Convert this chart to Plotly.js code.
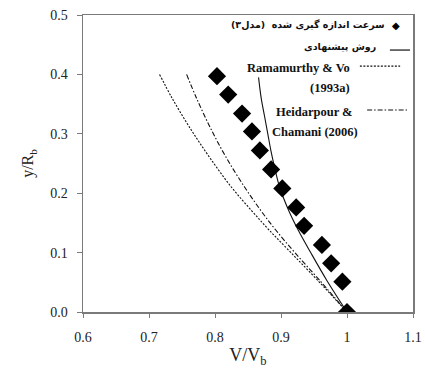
<!DOCTYPE html>
<html>
<head>
<meta charset="utf-8">
<script src="https://cdn.plot.ly/plotly-3.0.1.min.js"></script>
<style>html,body{margin:0;padding:0;background:#fff;}#chart{width:425px;height:374px;}</style>
</head>
<body>
<div id="chart"></div>
<script>
// Measured velocity (diamonds)
const measX = [0.803, 0.820, 0.841, 0.856, 0.868, 0.885, 0.902, 0.923, 0.935, 0.962, 0.976, 0.993, 1.0];
const measY = [0.397, 0.366, 0.334, 0.304, 0.272, 0.240, 0.208, 0.176, 0.145, 0.113, 0.082, 0.051, 0.0];
// Proposed method (solid)
const propX = [0.866, 0.870, 0.875, 0.880, 0.885, 0.891, 0.898, 0.912, 0.926, 0.945, 0.969, 1.0];
const propY = [0.395, 0.360, 0.330, 0.300, 0.270, 0.240, 0.210, 0.170, 0.138, 0.100, 0.054, 0.0];
// Ramamurthy & Vo (1993a) (dashed)
const ramX = [0.716, 0.735, 0.762, 0.792, 0.825, 0.856, 0.882, 0.915, 0.955, 1.0];
const ramY = [0.400, 0.360, 0.310, 0.260, 0.210, 0.170, 0.138, 0.100, 0.054, 0.0];
// Heidarpour & Chamani (2006) (dash-dot)
const heiX = [0.757, 0.772, 0.793, 0.817, 0.845, 0.870, 0.892, 0.921, 0.958, 1.0];
const heiY = [0.400, 0.360, 0.310, 0.260, 0.210, 0.170, 0.138, 0.100, 0.054, 0.0];

const xTicks = [0.6, 0.7, 0.8, 0.9, 1.0, 1.1];
const xTickText = ['0.6', '0.7', '0.8', '0.9', '1', '1.1'];
const yTicks = [0.0, 0.1, 0.2, 0.3, 0.4, 0.5];
const yTickText = ['0.0', '0.1', '0.2', '0.3', '0.4', '0.5'];

const legMeas = 'سرعت اندازه گیری شده  (مدل۳)';
const legProp = 'روش پیشنهادی';

const serif = 'Liberation Serif, DejaVu Serif, serif';
const legFont = {family: serif, size: 12.5, color: '#111'};
const farsiFont = {family: 'DejaVu Sans', size: 9.5, color: '#111'};

const traces = [
  {x: ramX, y: ramY, mode: 'lines', line: {color: '#111', width: 1.1, dash: '2px,1.5px', shape: 'spline', smoothing: 1}, hoverinfo: 'skip'},
  {x: heiX, y: heiY, mode: 'lines', line: {color: '#111', width: 1.1, dash: '5px,2px,1.5px,2px', shape: 'spline', smoothing: 1}, hoverinfo: 'skip'},
  {x: propX, y: propY, mode: 'lines', line: {color: '#111', width: 1.1, shape: 'spline'}, hoverinfo: 'skip'},
  {x: measX, y: measY, mode: 'markers', marker: {symbol: 'diamond', size: 14, color: '#000'}, hoverinfo: 'skip'}
];

function ann(text, x, y, font, anchor) {
  return {text: '<b>' + text + '</b>', x: x, y: y, xref: 'paper', yref: 'paper', xanchor: anchor || 'right', yanchor: 'middle', showarrow: false, font: font};
}

const layout = {
  width: 425, height: 374,
  margin: {l: 83, r: 12, t: 15, b: 62},
  paper_bgcolor: '#fff', plot_bgcolor: '#fff',
  showlegend: false,
  font: {family: serif},
  xaxis: {
    range: [0.6, 1.1], tickvals: xTicks, ticktext: xTickText,
    showgrid: false, zeroline: false, showline: true, mirror: true,
    linecolor: '#7a7a7a', linewidth: 1.5, ticks: 'outside', ticklen: 4, tickcolor: '#7a7a7a',
    ticklabelstandoff: 8,
    tickfont: {family: serif, size: 14, color: '#222'},
    title: {text: 'V/V<sub>b</sub>', font: {family: serif, size: 18, color: '#222'}, standoff: 4}
  },
  yaxis: {
    range: [0, 0.5], tickvals: yTicks, ticktext: yTickText,
    showgrid: false, zeroline: false, showline: true, mirror: true,
    linecolor: '#7a7a7a', linewidth: 1.5, ticks: 'outside', ticklen: 5, tickcolor: '#7a7a7a',
    ticklabelstandoff: 6,
    tickfont: {family: serif, size: 14, color: '#222'},
    title: {text: 'y/R<sub>b</sub>', font: {family: serif, size: 16, color: '#222'}, standoff: 12}
  },
  annotations: [
    ann(legMeas, 0.921, 0.966, farsiFont),
    {text: '◆', x: 0.947, y: 0.966, xref: 'paper', yref: 'paper', xanchor: 'center', yanchor: 'middle', showarrow: false, font: {family: 'DejaVu Sans', size: 10, color: '#000'}},
    ann(legProp, 0.894, 0.892, farsiFont),
    ann('Ramamurthy &amp; Vo', 0.815, 0.822, legFont),
    ann('(1993a)', 0.815, 0.754, legFont),
    ann('Heidarpour &amp;', 0.824, 0.673, legFont),
    ann('Chamani (2006)', 0.839, 0.606, legFont)
  ],
  shapes: [
    {type: 'line', xref: 'paper', yref: 'paper', x0: 0.930, x1: 0.991, y0: 0.882, y1: 0.882, line: {color: '#111', width: 1.2}},
    {type: 'line', xref: 'paper', yref: 'paper', x0: 0.839, x1: 0.961, y0: 0.828, y1: 0.828, line: {color: '#111', width: 1.1, dash: '2px,1.5px'}},
    {type: 'line', xref: 'paper', yref: 'paper', x0: 0.861, x1: 0.982, y0: 0.680, y1: 0.680, line: {color: '#111', width: 1.1, dash: '5px,2px,1.5px,2px'}}
  ]
};

Plotly.newPlot('chart', traces, layout, {staticPlot: true, displayModeBar: false});
</script>
</body>
</html>
